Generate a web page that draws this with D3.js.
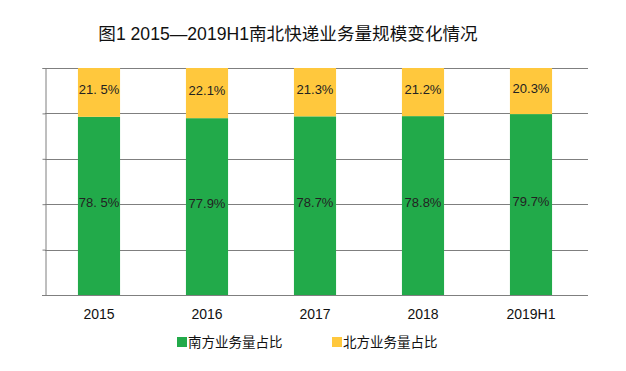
<!DOCTYPE html>
<html>
<head>
<meta charset="utf-8">
<script src="https://cdn.jsdelivr.net/npm/d3@7"></script>
<style>
  body { margin: 0; background: #fff; }
  svg text { font-family: "Liberation Sans", Arial, "Noto Sans CJK SC", sans-serif; }
</style>
</head>
<body>
<div id="chart"></div>
<script>
// chart data
const categories = ['2015', '2016', '2017', '2018', '2019H1'];
const southShare = [78.5, 77.9, 78.7, 78.8, 79.7];
const northShare = [21.5, 22.1, 21.3, 21.2, 20.3];
const southLabels = ['78. 5%', '77.9%', '78.7%', '78.8%', '79.7%'];
const northLabels = ['21. 5%', '22.1%', '21.3%', '21.2%', '20.3%'];
const seriesNames = ['南方业务量占比', '北方业务量占比'];
const yTicks = [0, 20, 40, 60, 80, 100];
const title = '图1 2015—2019H1南北快递业务量规模变化情况';

const width = 626, height = 371;
const margin = {top: 68, right: 41, bottom: 76, left: 45};
const colors = {south: '#22aa4a', north: '#ffc83d'};

const svg = d3.select('#chart').append('svg')
    .attr('width', width)
    .attr('height', height);

const x = d3.scaleBand()
    .domain(categories)
    .range([margin.left, width - margin.right])
    .paddingInner(0.61)
    .paddingOuter(0.305);

const y = d3.scaleLinear()
    .domain([0, 100])
    .range([height - margin.bottom, margin.top]);

// title
svg.append('text')
    .attr('x', 288)
    .attr('y', 40)
    .attr('text-anchor', 'middle')
    .attr('font-size', 17.6)
    .attr('fill', '#111')
    .text(title);

// gridlines
svg.append('g')
    .selectAll('line')
    .data(yTicks.slice(1))
    .join('line')
    .attr('x1', margin.left)
    .attr('x2', width - margin.right + 3)
    .attr('y1', d => Math.round(y(d)) + 0.5)
    .attr('y2', d => Math.round(y(d)) + 0.5)
    .attr('stroke', '#7f7f7f')
    .attr('stroke-width', 1);

// y axis (line + small ticks, no labels)
const yAxis = svg.append('g')
    .attr('transform', `translate(${margin.left + 0.5},0)`)
    .call(d3.axisLeft(y).tickValues(yTicks).tickSize(3).tickFormat(''));
yAxis.select('.domain').attr('stroke', '#7f7f7f');
yAxis.selectAll('.tick line').attr('stroke', '#7f7f7f');

// x axis baseline
svg.append('line')
    .attr('x1', margin.left - 3)
    .attr('x2', width - margin.right + 3)
    .attr('y1', Math.round(y(0)) + 0.5)
    .attr('y2', Math.round(y(0)) + 0.5)
    .attr('stroke', '#7f7f7f');

const rows = categories.map((c, i) => ({
    cat: c, south: southShare[i], north: northShare[i],
    southLabel: southLabels[i], northLabel: northLabels[i]
}));

const stack = d3.stack().keys(['south', 'north']);
const stacked = stack(rows);

svg.append('g')
    .selectAll('g')
    .data(stacked)
    .join('g')
    .attr('fill', d => colors[d.key])
    .selectAll('rect')
    .data(d => d)
    .join('rect')
    .attr('x', d => x(d.data.cat))
    .attr('width', x.bandwidth())
    .attr('y', d => y(d[1]))
    .attr('height', d => y(d[0]) - y(d[1]));

// value labels
stacked.forEach(layer => {
    svg.append('g')
        .selectAll('text')
        .data(layer)
        .join('text')
        .attr('x', d => x(d.data.cat) + x.bandwidth() / 2)
        .attr('y', d => (y(d[0]) + y(d[1])) / 2 + 1.5)
        .attr('text-anchor', 'middle')
        .attr('font-size', 13)
        .attr('fill', '#222')
        .text(d => layer.key === 'south' ? d.data.southLabel : d.data.northLabel);
});

// category labels
svg.append('g')
    .selectAll('text')
    .data(categories)
    .join('text')
    .attr('x', d => x(d) + x.bandwidth() / 2)
    .attr('y', 319)
    .attr('text-anchor', 'middle')
    .attr('font-size', 14)
    .attr('fill', '#111')
    .text(d => d);

// legend
const legendItems = [
    {name: seriesNames[0], color: colors.south, x: 177},
    {name: seriesNames[1], color: colors.north, x: 332}
];
const legend = svg.append('g')
    .selectAll('g')
    .data(legendItems)
    .join('g')
    .attr('transform', d => `translate(${d.x},337)`);
legend.append('rect')
    .attr('width', 10)
    .attr('height', 10)
    .attr('fill', d => d.color);
legend.append('text')
    .attr('x', 11)
    .attr('y', 10)
    .attr('font-size', 13.5)
    .attr('fill', '#111')
    .text(d => d.name);
</script>
</body>
</html>
